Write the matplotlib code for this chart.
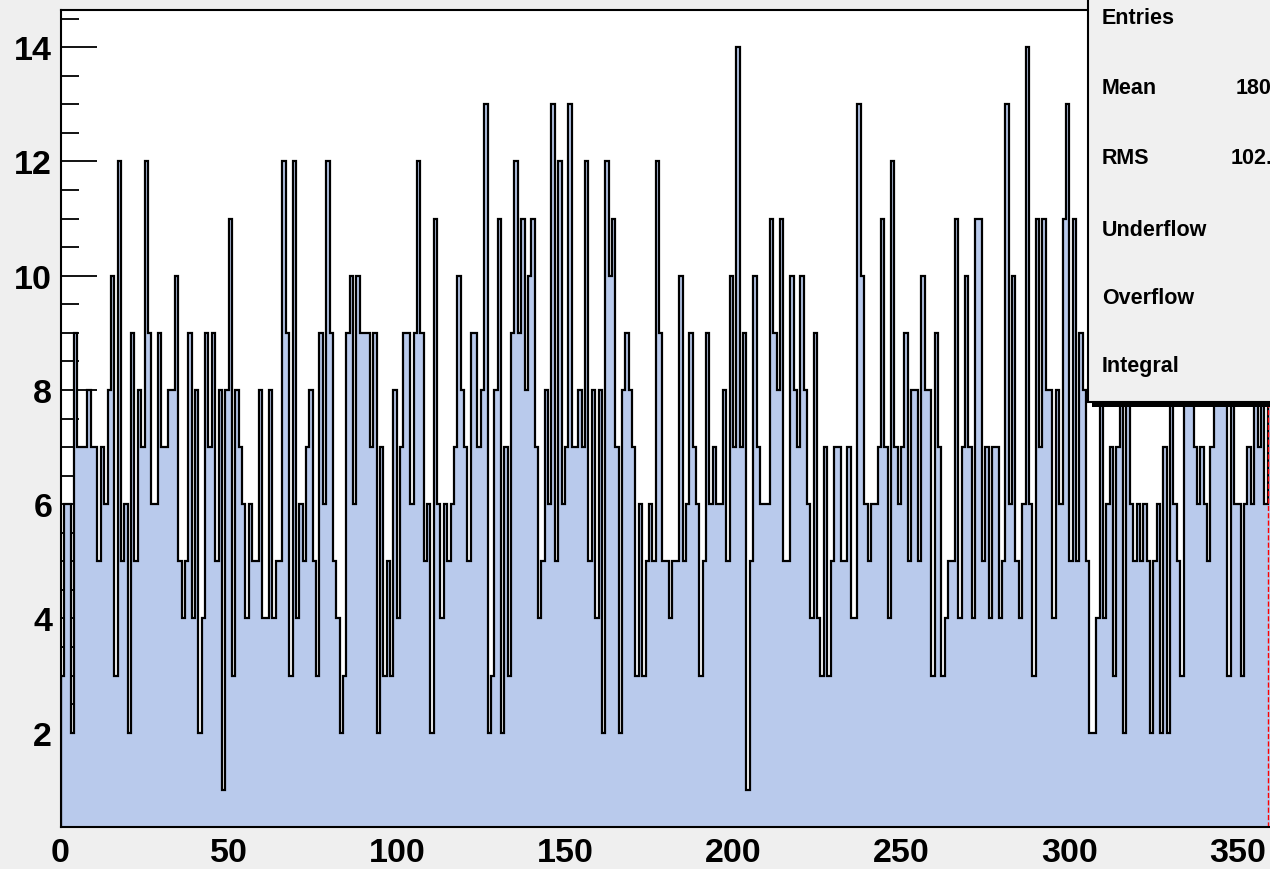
import numpy as np
import matplotlib
import matplotlib.pyplot as plt
from matplotlib.patches import Rectangle
from matplotlib.ticker import MultipleLocator
matplotlib.use('Agg')

# histogram: 360 bins from 0 to 360, contents
x_min, x_max = 0, 360
counts = [
    3, 6, 6, 2, 9, 7, 7, 7, 8, 7, 7, 5, 7, 6, 8, 10, 3, 12, 5, 6,
    2, 9, 5, 8, 7, 12, 9, 6, 6, 9, 7, 7, 8, 8, 10, 5, 4, 5, 9, 4,
    8, 2, 4, 9, 7, 9, 5, 8, 1, 8, 11, 3, 8, 7, 6, 4, 6, 5, 5, 8,
    4, 4, 8, 4, 5, 5, 12, 9, 3, 12, 4, 6, 5, 7, 8, 5, 3, 9, 6, 12,
    9, 5, 4, 2, 3, 9, 10, 6, 10, 9, 9, 9, 7, 9, 2, 7, 3, 5, 3, 8,
    4, 7, 9, 9, 6, 9, 12, 9, 5, 6, 2, 11, 6, 4, 6, 5, 6, 7, 10, 8,
    7, 5, 9, 9, 7, 8, 13, 2, 3, 8, 11, 2, 7, 3, 9, 12, 9, 11, 8, 10,
    11, 7, 4, 5, 8, 6, 13, 5, 12, 6, 7, 13, 7, 7, 8, 7, 12, 5, 8, 4,
    8, 2, 12, 10, 11, 7, 2, 8, 9, 8, 7, 3, 6, 3, 5, 6, 5, 12, 9, 5,
    5, 4, 5, 5, 10, 5, 6, 9, 7, 6, 3, 5, 9, 6, 7, 6, 6, 8, 5, 10,
    7, 14, 7, 9, 1, 5, 10, 7, 6, 6, 6, 11, 9, 8, 11, 5, 5, 10, 8, 7,
    10, 8, 6, 4, 9, 4, 3, 7, 3, 5, 7, 7, 5, 5, 7, 4, 4, 13, 10, 6,
    5, 6, 6, 7, 11, 7, 4, 12, 7, 6, 7, 9, 5, 8, 8, 5, 10, 8, 8, 3,
    9, 7, 3, 4, 5, 5, 11, 4, 7, 10, 7, 4, 11, 11, 5, 7, 4, 7, 7, 4,
    5, 13, 6, 10, 5, 4, 6, 14, 6, 3, 11, 7, 11, 8, 8, 4, 8, 6, 11, 13,
    5, 11, 5, 9, 8, 5, 2, 2, 4, 9, 4, 6, 7, 3, 7, 9, 2, 9, 6, 5,
    6, 5, 6, 5, 2, 5, 6, 2, 7, 2, 9, 6, 5, 3, 9, 10, 8, 7, 6, 7,
    6, 5, 7, 9, 10, 8, 9, 3, 9, 6, 6, 3, 6, 7, 6, 9, 7, 9, 6, 8,
]
x_ticks = [0, 50, 100, 150, 200, 250, 300, 350]
y_ticks = [2, 4, 6, 8, 10, 12, 14]

stat_labels = ['Entries', 'Mean', 'RMS', 'Underflow', 'Overflow', 'Integral']
stat_values = ['', '180.2', '102.8', '', '', '']

W, H = 1270, 870
plt.rcParams['font.family'] = ['Liberation Sans', 'DejaVu Sans']
plt.rcParams['font.weight'] = 'bold'

fig = plt.figure(figsize=(W / 100, H / 100), dpi=100)
fig.patch.set_facecolor('#efefef')
ax = fig.add_axes([60.5 / W, 42 / H, (1271 - 60.5) / W, (828 - 11) / H])
ax.set_facecolor('white')

edges = np.linspace(x_min, x_max, len(counts) + 1)
ax.stairs(counts, edges, fill=True, color='#b9caec', baseline=0, zorder=2)
ax.stairs(counts, edges, color='black', linewidth=1.6, baseline=0, zorder=3)

y_lo, y_hi = 0.35, 14.65
ax.axhline(y_lo, color='red', linestyle='--', linewidth=1.0, zorder=4)
ax.axvline(x_max - 0.8, color='red', linestyle='--', linewidth=1.0, zorder=4)

ax.set_xlim(x_min, x_max)
ax.set_ylim(y_lo, y_hi)

ax.set_xticks(x_ticks)
ax.set_xticklabels([str(t) for t in x_ticks])
ax.xaxis.set_minor_locator(MultipleLocator(10))
ax.set_yticks(y_ticks)
ax.set_yticklabels([str(t) for t in y_ticks])
ax.yaxis.set_minor_locator(MultipleLocator(0.5))

ax.tick_params(axis='both', which='both', direction='in', width=1.3,
               labelsize=24.5, top=False, right=False, zorder=5)
ax.tick_params(axis='y', which='major', length=26, pad=6)
ax.tick_params(axis='y', which='minor', length=13)
ax.tick_params(axis='x', which='major', length=15, pad=7)
ax.tick_params(axis='x', which='minor', length=7)
for lab in ax.get_xticklabels() + ax.get_yticklabels():
    lab.set_fontweight('bold')

for s in ax.spines.values():
    s.set_linewidth(1.5)
    s.set_zorder(6)

# statistics box, cut by the right and top edges of the canvas
bx0, by0 = 1088 / W, (H - 403) / H
fig.patches.append(Rectangle((bx0 + 4 / W, by0 - 5 / H), 0.5, 0.6,
                             transform=fig.transFigure, facecolor='black',
                             edgecolor='none', zorder=10))
fig.patches.append(Rectangle((bx0, by0), 0.5, 0.6,
                             transform=fig.transFigure, facecolor='#f0f0f0',
                             edgecolor='black', linewidth=1.5, zorder=11))
row_y = [18, 89, 159, 230, 299, 367]
val_x = ['', 1236, 1231, '', '', '']
for lab, val, ry, vx in zip(stat_labels, stat_values, row_y, val_x):
    fig.text(1102 / W, 1 - ry / H, lab, fontsize=15.5, fontweight='bold',
             va='center', ha='left', zorder=12)
    if val:
        fig.text(vx / W, 1 - ry / H, val, fontsize=15.5, fontweight='bold',
                 va='center', ha='left', zorder=12)

fig.savefig('out.png', dpi=100, facecolor=fig.get_facecolor())
